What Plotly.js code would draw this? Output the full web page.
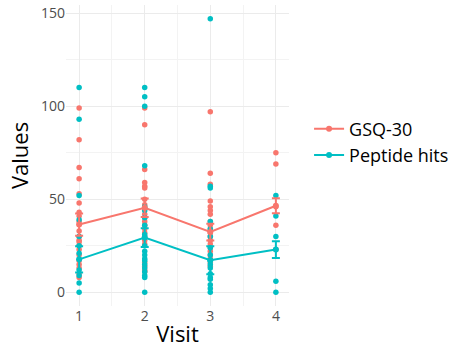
<!DOCTYPE html>
<html>
<head>
<meta charset="utf-8">
<script src="https://cdn.plot.ly/plotly-3.0.1.min.js"></script>
<style>html,body{margin:0;padding:0;background:#fff;}#chart{width:475px;height:364px;}</style>
</head>
<body>
<div id="chart"></div>
<script>
const visits = [1, 2, 3, 4];
const tickLabels = ["1", "2", "3", "4"];
const seriesNames = ["GSQ-30", "Peptide hits"];

// individual observations per visit
const gsqV1 = [99, 82, 67, 61, 53, 48, 43, 41, 38, 33, 30, 28, 27, 25, 23, 20, 17, 15, 13, 10, 8];
const gsqV2 = [99, 90, 66, 59, 57, 56, 50, 47, 45, 42, 40, 38, 36, 34, 32, 30, 28, 26, 16, 14, 12, 11];
const gsqV3 = [97, 64, 58, 49, 46, 44, 42, 38, 36, 34, 32, 30, 28, 26, 24, 22, 20, 18, 16, 14];
const gsqV4 = [75, 69, 46, 36, 23];

const pepV1 = [110, 93, 52, 39, 30, 25, 21, 12, 9, 5, 0];
const pepV2 = [110, 105, 100, 68, 46, 44, 40, 36, 31, 25, 22, 20, 18, 17, 15, 13, 11, 9, 8, 0];
const pepV3 = [147, 57, 56, 38, 34, 30, 24, 20, 17, 15, 13, 10, 8, 7, 4, 2, 0];
const pepV4 = [52, 41, 30, 6, 0];

// means and standard errors per visit
const gsqMean = [36.4, 45.4, 32.4, 46.5];
const gsqSE = [6, 5, 4.5, 4];
const pepMean = [17.7, 29.4, 17.2, 23];
const pepSE = [7, 5, 7.5, 4.5];

const red = "#F8766D", teal = "#00BFC4";

function pts(groups) {
  const x = [], y = [];
  groups.forEach((g, i) => g.forEach(v => { x.push(visits[i]); y.push(v); }));
  return {x, y};
}
const g = pts([gsqV1, gsqV2, gsqV3, gsqV4]);
const p = pts([pepV1, pepV2, pepV3, pepV4]);

const traces = [
  {x: g.x, y: g.y, type: "scatter", mode: "markers", marker: {color: red, size: 5.5}, showlegend: false, hoverinfo: "skip"},
  {x: p.x, y: p.y, type: "scatter", mode: "markers", marker: {color: teal, size: 5.5}, showlegend: false, hoverinfo: "skip"},
  {x: visits, y: gsqMean, name: seriesNames[0], type: "scatter", mode: "lines+markers",
   line: {color: red, width: 2}, marker: {color: red, size: 6},
   error_y: {type: "data", array: gsqSE, color: red, thickness: 2, width: 4}},
  {x: visits, y: pepMean, name: seriesNames[1], type: "scatter", mode: "lines+markers",
   line: {color: teal, width: 2}, marker: {color: teal, size: 6},
   error_y: {type: "data", array: pepSE, color: teal, thickness: 2, width: 4}}
];

const layout = {
  width: 475, height: 364,
  margin: {l: 66, r: 186, t: 5, b: 58},
  paper_bgcolor: "#fff", plot_bgcolor: "#fff",
  font: {family: "Open Sans, sans-serif"},
  xaxis: {
    range: [0.8, 4.2], tickvals: visits, ticktext: tickLabels,
    showgrid: true, gridcolor: "#ebebeb", gridwidth: 1,
    minor: {dtick: 0.5, tick0: 0.5, showgrid: true, gridcolor: "#f3f3f3", gridwidth: 1},
    zeroline: false, showline: false, ticks: "",
    tickfont: {size: 14, color: "#4d4d4d"},
    title: {text: "Visit", font: {size: 22, color: "#000"}, standoff: 2}
  },
  yaxis: {
    range: [-7.35, 154.35], tickvals: [0, 50, 100, 150],
    showgrid: true, gridcolor: "#ebebeb", gridwidth: 1,
    minor: {dtick: 25, tick0: 0, showgrid: true, gridcolor: "#f3f3f3", gridwidth: 1},
    zeroline: false, showline: false, ticks: "",
    tickfont: {size: 14, color: "#4d4d4d"},
    title: {text: "Values", font: {size: 22, color: "#000"}, standoff: 6}
  },
  legend: {x: 1.09, xanchor: "left", y: 0.545, yanchor: "middle",
    font: {size: 18, color: "#000"}, bgcolor: "rgba(0,0,0,0)", tracegroupgap: 0, itemwidth: 30},
  showlegend: true
};

Plotly.newPlot("chart", traces, layout, {displayModeBar: false, staticPlot: true});
</script>
</body>
</html>
